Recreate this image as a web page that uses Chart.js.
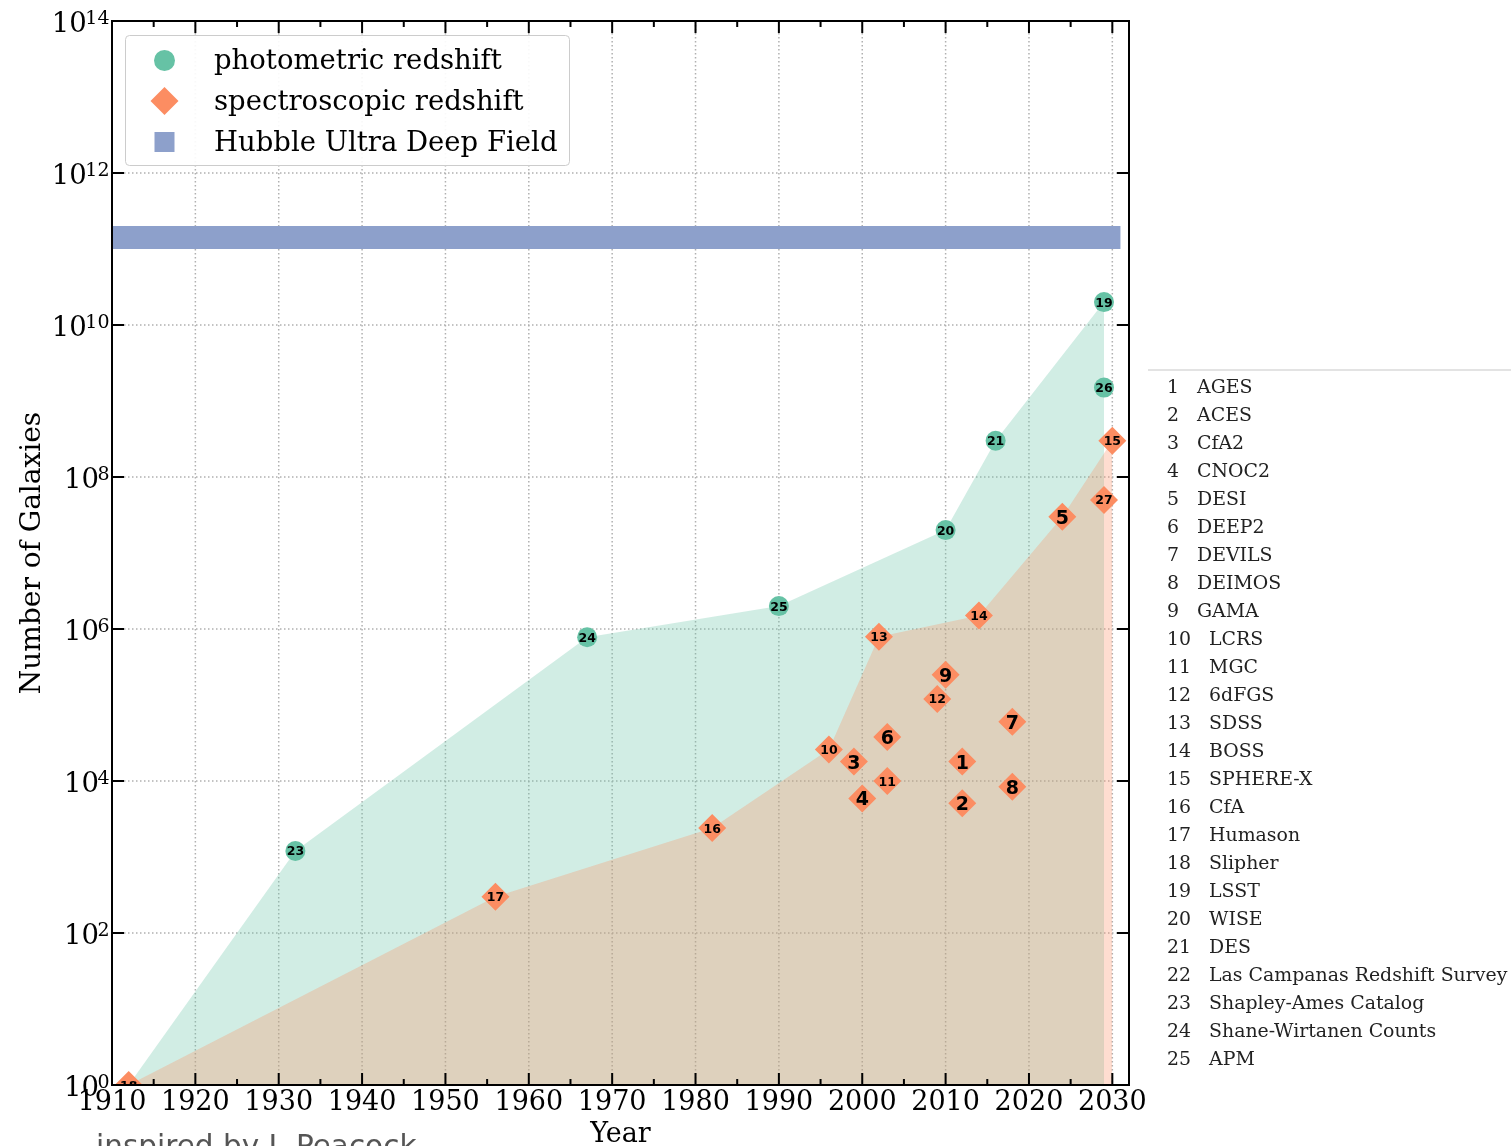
<!DOCTYPE html>
<html>
<head>
<meta charset="utf-8">
<title>Number of Galaxies in Surveys</title>
<script src="https://cdn.jsdelivr.net/npm/chart.js@4.4.1/dist/chart.umd.min.js"></script>
<style>
  html, body { margin: 0; padding: 0; background: #ffffff; overflow: hidden; }
  canvas { display: block; }
</style>
</head>
<body>
<canvas id="galaxies" width="1511" height="1146"></canvas>
<script>
// Survey catalogue, numbered from 1
const surveyNames = [
  'AGES', 'ACES', 'CfA2', 'CNOC2', 'DESI', 'DEEP2', 'DEVILS', 'DEIMOS', 'GAMA',
  'LCRS', 'MGC', '6dFGS', 'SDSS', 'BOSS', 'SPHERE-X', 'CfA', 'Humason', 'Slipher',
  'LSST', 'WISE', 'DES', 'Las Campanas Redshift Survey', 'Shapley-Ames Catalog',
  'Shane-Wirtanen Counts', 'APM'
];

// Photometric-redshift / counting surveys
const photoIds    = [23, 24, 25, 20, 21, 19, 26];
const photoYears  = [1932, 1967, 1990, 2010, 2016, 2029, 2029];
const photoCounts = [1.2e3, 7.8e5, 2e6, 2e7, 3e8, 2e10, 1.5e9];

// Spectroscopic-redshift surveys
const specIds    = [18, 17, 16, 10, 3, 4, 13, 6, 11, 12, 9, 1, 2, 14, 7, 8, 5, 27, 15];
const specYears  = [1912, 1956, 1982, 1996, 1999, 2000, 2002, 2003, 2003, 2009, 2010, 2012, 2012, 2014, 2018, 2018, 2024, 2029, 2030];
const specCounts = [1, 300, 2.4e3, 2.6e4, 1.8e4, 5.9e3, 7.9e5, 3.8e4, 1e4, 1.2e5, 2.5e5, 1.8e4, 5.1e3, 1.5e6, 6e4, 8.4e3, 3e7, 5e7, 3e8];

// Surveys that trace the upper edge of each shaded region
const photoEnvelopeIds = [18, 23, 24, 25, 20, 21, 19];
const specEnvelopeIds  = [18, 17, 16, 10, 13, 14, 5, 15];

// Hubble Ultra Deep Field extrapolation band
const hubbleYears = [1910, 2031];
const hubbleBand  = [1e11, 2e11];

// Axis ticks
const xRange      = [1910, 2032];
const yRange      = [1, 1e14];
const xMajorTicks = [1910, 1920, 1930, 1940, 1950, 1960, 1970, 1980, 1990, 2000, 2010, 2020, 2030];
const xMinorTicks = [1915, 1925, 1935, 1945, 1955, 1965, 1975, 1985, 1995, 2005, 2015, 2025];
const yExponents  = [0, 2, 4, 6, 8, 10, 12, 14];
const yMajorTicks = [1, 1e2, 1e4, 1e6, 1e8, 1e10, 1e12, 1e14];

const legendLabels = ['photometric redshift', 'spectroscopic redshift', 'Hubble Ultra Deep Field'];

const COLORS = {
  photo: '#66c2a5',
  spec: '#fc8d62',
  hubble: '#8da0cb',
  photoFill: 'rgba(102, 194, 165, 0.3)',
  specFill: 'rgba(252, 141, 98, 0.3)',
  grid: '#b0b0b0'
};

const SERIF = '"DejaVu Serif", "Liberation Serif", serif';
const SANS = '"DejaVu Sans", "Liberation Sans", sans-serif';

function surveyPoint(id) {
  let i = photoIds.indexOf(id);
  if (i >= 0) return { x: photoYears[i], y: photoCounts[i] };
  i = specIds.indexOf(id);
  return { x: specYears[i], y: specCounts[i] };
}

const photoPoints = photoIds.map((id, i) => ({ x: photoYears[i], y: photoCounts[i] }));
const specPoints  = specIds.map((id, i) => ({ x: specYears[i], y: specCounts[i] }));

// Gridlines underneath everything
const gridPlugin = {
  id: 'dottedGrid',
  beforeDatasetsDraw(chart) {
    const { ctx, chartArea: a, scales: { x, y } } = chart;
    ctx.save();
    ctx.strokeStyle = COLORS.grid;
    ctx.lineWidth = 1.5;
    ctx.setLineDash([1.5, 2.5]);
    xMajorTicks.forEach(v => {
      const px = x.getPixelForValue(v);
      ctx.beginPath(); ctx.moveTo(px, a.top); ctx.lineTo(px, a.bottom); ctx.stroke();
    });
    yMajorTicks.forEach(v => {
      const py = y.getPixelForValue(v);
      ctx.beginPath(); ctx.moveTo(a.left, py); ctx.lineTo(a.right, py); ctx.stroke();
    });
    ctx.restore();
  }
};

// Survey numbers inside each marker, frame, ticks, titles, legend and key
const annotationPlugin = {
  id: 'annotations',
  afterDatasetsDraw(chart) {
    const { ctx, chartArea: a, scales: { x, y } } = chart;

    // numbers inside markers
    ctx.save();
    ctx.beginPath();
    ctx.rect(a.left, a.top, a.right - a.left, a.bottom - a.top);
    ctx.clip();
    ctx.fillStyle = '#000';
    ctx.textAlign = 'center';
    ctx.textBaseline = 'alphabetic';
    chart.data.datasets.forEach((ds, di) => {
      if (!ds.surveyIds) return;
      const meta = chart.getDatasetMeta(di);
      meta.data.forEach((pt, k) => {
        const t = String(ds.surveyIds[k]);
        ctx.font = (t.length > 1 ? 'bold 12.5px ' : 'bold 19px ') + SANS;
        const m = ctx.measureText(t);
        ctx.fillText(t, pt.x, pt.y + (m.actualBoundingBoxAscent - m.actualBoundingBoxDescent) / 2);
      });
    });
    ctx.restore();

    // axes frame
    ctx.save();
    ctx.strokeStyle = '#000';
    ctx.lineWidth = 2;
    ctx.strokeRect(a.left, a.top, a.right - a.left, a.bottom - a.top);

    // inward ticks on all four sides
    const major = 12, minor = 6;
    ctx.beginPath();
    xMajorTicks.forEach(v => {
      const px = x.getPixelForValue(v);
      ctx.moveTo(px, a.bottom); ctx.lineTo(px, a.bottom - major);
      ctx.moveTo(px, a.top); ctx.lineTo(px, a.top + major);
    });
    xMinorTicks.forEach(v => {
      const px = x.getPixelForValue(v);
      ctx.moveTo(px, a.bottom); ctx.lineTo(px, a.bottom - minor);
      ctx.moveTo(px, a.top); ctx.lineTo(px, a.top + minor);
    });
    yMajorTicks.forEach(v => {
      const py = y.getPixelForValue(v);
      ctx.moveTo(a.left, py); ctx.lineTo(a.left + major, py);
      ctx.moveTo(a.right, py); ctx.lineTo(a.right - major, py);
    });
    ctx.stroke();

    // tick labels
    ctx.fillStyle = '#000';
    ctx.font = '27px ' + SERIF;
    ctx.textAlign = 'center';
    ctx.textBaseline = 'alphabetic';
    xMajorTicks.forEach(v => {
      ctx.fillText(String(v), x.getPixelForValue(v), a.bottom + 24.5);
    });
    ctx.textAlign = 'left';
    yMajorTicks.forEach((v, i) => {
      const py = y.getPixelForValue(v);
      const sup = String(yExponents[i]);
      ctx.font = '19px ' + SERIF;
      const wSup = ctx.measureText(sup).width;
      ctx.font = '27.5px ' + SERIF;
      const wBase = ctx.measureText('10').width;
      const right = a.left - 2.5;
      const supX = right - wSup;
      ctx.fillText('10', supX - wBase + 1.5, py + 10.5);
      ctx.font = '19px ' + SERIF;
      ctx.fillText(sup, supX, py + 3.3);
    });

    // axis titles
    ctx.font = '27px ' + SERIF;
    ctx.textAlign = 'center';
    ctx.fillText('Year', (a.left + a.right) / 2, 1142);
    ctx.save();
    ctx.translate(39.5, (a.top + a.bottom) / 2);
    ctx.rotate(-Math.PI / 2);
    ctx.font = '28px ' + SERIF;
    ctx.fillText('Number of Galaxies', 0, 0);
    ctx.restore();

    // legend
    ctx.beginPath();
    ctx.roundRect(125.5, 35.5, 444, 130, 4);
    ctx.fillStyle = 'rgba(255,255,255,0.92)';
    ctx.fill();
    ctx.lineWidth = 1;
    ctx.strokeStyle = '#cccccc';
    ctx.stroke();

    ctx.fillStyle = COLORS.photo;
    ctx.beginPath(); ctx.arc(164.5, 60.5, 10.5, 0, Math.PI * 2); ctx.fill();
    ctx.fillStyle = COLORS.spec;
    ctx.beginPath();
    ctx.moveTo(150.5, 101); ctx.lineTo(164.5, 87); ctx.lineTo(178.5, 101); ctx.lineTo(164.5, 115);
    ctx.closePath(); ctx.fill();
    ctx.fillStyle = COLORS.hubble;
    ctx.fillRect(154.5, 132, 20, 20);

    ctx.fillStyle = '#000';
    ctx.font = '27.5px ' + SERIF;
    ctx.textAlign = 'left';
    legendLabels.forEach((t, i) => ctx.fillText(t, 214, 68.5 + i * 41));

    // survey key on the right
    ctx.strokeStyle = '#e3e3e3';
    ctx.lineWidth = 2;
    ctx.beginPath(); ctx.moveTo(1148, 370); ctx.lineTo(1511, 370); ctx.stroke();
    ctx.fillStyle = '#222';
    ctx.font = '18.9px ' + SERIF;
    surveyNames.forEach((name, i) => {
      ctx.fillText((i + 1) + '   ' + name, 1167, 392.5 + i * 28);
    });

    // credit line
    ctx.fillStyle = '#555';
    ctx.font = '29.5px ' + SANS;
    ctx.fillText('inspired by J. Peacock', 96, 1156);
    ctx.restore();
  }
};

const ctx = document.getElementById('galaxies').getContext('2d');

new Chart(ctx, {
  type: 'scatter',
  data: {
    datasets: [
      {
        type: 'line',
        label: legendLabels[2],
        data: hubbleYears.map(yr => ({ x: yr, y: hubbleBand[1] })),
        fill: { value: hubbleBand[0] },
        backgroundColor: COLORS.hubble,
        borderColor: 'transparent',
        borderWidth: 0,
        pointRadius: 0,
        order: 10
      },
      {
        type: 'line',
        label: 'photometric envelope',
        data: photoEnvelopeIds.map(surveyPoint),
        fill: 'start',
        backgroundColor: COLORS.photoFill,
        borderColor: 'transparent',
        borderWidth: 0,
        pointRadius: 0,
        order: 9
      },
      {
        type: 'line',
        label: 'spectroscopic envelope',
        data: specEnvelopeIds.map(surveyPoint),
        fill: 'start',
        backgroundColor: COLORS.specFill,
        borderColor: 'transparent',
        borderWidth: 0,
        pointRadius: 0,
        order: 8
      },
      {
        label: legendLabels[0],
        data: photoPoints,
        surveyIds: photoIds,
        pointStyle: 'circle',
        pointRadius: 10,
        pointBackgroundColor: COLORS.photo,
        pointBorderWidth: 0,
        clip: 0,
        order: 2
      },
      {
        label: legendLabels[1],
        data: specPoints,
        surveyIds: specIds,
        pointStyle: 'rectRot',
        pointRadius: 14,
        pointBackgroundColor: COLORS.spec,
        pointBorderWidth: 0,
        clip: 0,
        order: 1
      }
    ]
  },
  options: {
    responsive: false,
    animation: false,
    devicePixelRatio: 1,
    events: [],
    layout: { padding: { left: 0, top: 21, right: 1511 - 1129, bottom: 0 } },
    scales: {
      x: {
        type: 'linear',
        position: 'bottom',
        min: xRange[0],
        max: xRange[1],
        grid: { display: false },
        border: { display: false },
        ticks: { display: false },
        afterBuildTicks(scale) { scale.ticks = xMajorTicks.map(v => ({ value: v })); },
        afterFit(scale) { scale.height = 1146 - 1085; }
      },
      y: {
        type: 'logarithmic',
        min: yRange[0],
        max: yRange[1],
        grid: { display: false },
        border: { display: false },
        ticks: { display: false },
        afterBuildTicks(scale) { scale.ticks = yMajorTicks.map(v => ({ value: v })); },
        afterFit(scale) { scale.width = 112; }
      }
    },
    plugins: {
      legend: { display: false },
      tooltip: { enabled: false }
    }
  },
  plugins: [gridPlugin, annotationPlugin]
});
</script>
</body>
</html>
